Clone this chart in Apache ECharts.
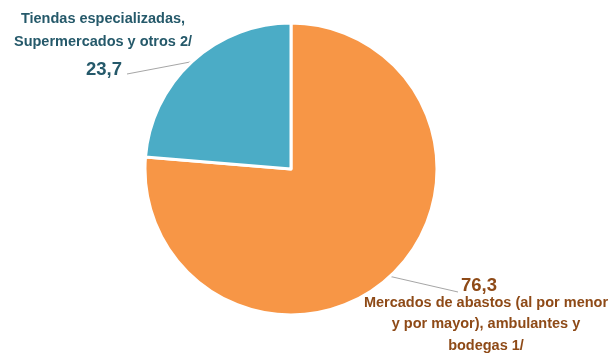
<!DOCTYPE html>
<html><head><meta charset="utf-8">
<script src="https://cdn.jsdelivr.net/npm/echarts@6.0.0/dist/echarts.min.js"></script>
<style>html,body{margin:0;padding:0;background:#fff}#c{width:608px;height:356px}</style>
</head><body><div id="c"></div>
<script>
const categories = [
  'Mercados de abastos (al por menor\ny por mayor), ambulantes y\nbodegas 1/',
  'Tiendas especializadas,\nSupermercados y otros 2/'
];
const values = [76.3, 23.7];
const sliceColors = ['#F79646', '#4BACC6'];
const labelColors = ['#8E4A17', '#25596A'];

const FONT = '"Liberation Sans", Arial, sans-serif';
const fmt = v => v.toFixed(1).replace('.', ',');

const data = categories.map((name, i) => ({
  name: name,
  value: values[i],
  itemStyle: { color: sliceColors[i] },
  label: {
    color: labelColors[i],
    overflow: 'none',
    width: 400,
    formatter: i === 0 ? (p => '{v|' + fmt(p.value) + '}\n{n|' + p.name.split('\n').join('}\n{n|') + '}')
                       : (p => '{n|' + p.name.split('\n').join('}\n{n|') + '}\n{v|' + fmt(p.value) + '}'),
    rich: {
      n: { fontFamily: FONT, fontWeight: 'bold', fontSize: 14.5, lineHeight: i === 0 ? 21.5 : 22.7, color: labelColors[i], align: 'center' },
      v: { fontFamily: FONT, fontWeight: 'bold', fontSize: 18.5, lineHeight: i === 0 ? 12 : 32.5, color: labelColors[i], align: 'center', padding: i === 0 ? [0, 14, 0, 0] : [0, 0, 0, 2] }
    }
  }
}));

const chart = echarts.init(document.getElementById('c'), null, { renderer: 'canvas' });
chart.setOption({
  animation: false,
  backgroundColor: '#ffffff',
  series: [{
    type: 'pie',
    center: [291, 169],
    radius: 146,
    startAngle: 90,
    clockwise: true,
    itemStyle: { borderColor: '#ffffff', borderWidth: 3 },
    label: { show: true, position: 'outside', overflow: 'none' },
    labelLine: { show: true, lineStyle: { color: '#a6a6a6', width: 1 }, length: 20, length2: 10 },
    labelLayout: function (p) {
      if (p.dataIndex === 1) {
        return { x: 103, y: 8, align: 'center', verticalAlign: 'top',
          labelLinePoints: [p.labelLinePoints[0], [127, 74], [127, 74]] };
      }
      return { x: 486, y: 280, align: 'center', verticalAlign: 'top',
        labelLinePoints: [p.labelLinePoints[0], [458, 292], [458, 292]] };
    },
    data: data
  }]
});
</script>
</body></html>
